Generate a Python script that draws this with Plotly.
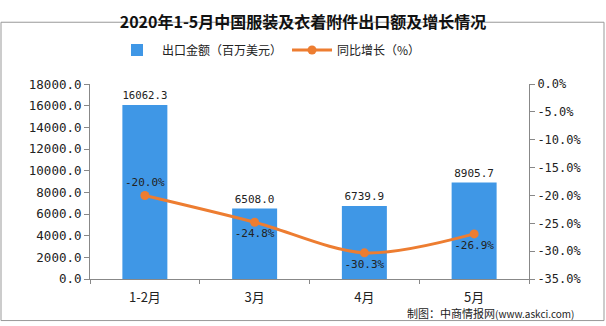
import plotly.graph_objects as go

categories = ["1-2月", "3月", "4月", "5月"]
export_values = [16062.3, 6508.0, 6739.9, 8905.7]
growth_values = [-20.0, -24.8, -30.3, -26.9]
left_ticks = [0, 2000, 4000, 6000, 8000, 10000, 12000, 14000, 16000, 18000]
right_ticks = [0, -5, -10, -15, -20, -25, -30, -35]

FONT = "Noto Sans CJK SC"
NUM = "DejaVu Sans Mono"
W, H = 606, 326
L, R, T, B = 90, 77, 68, 47
pw, ph = W - L - R, H - T - B

fig = go.Figure()
fig.add_trace(go.Bar(
    x=categories, y=export_values, name="出口金额（百万美元）",
    marker=dict(color="#3f97e6", line=dict(width=0)),
    width=0.41,
    texttemplate="%{y:.1f}", textposition="outside",
    textfont=dict(family=NUM, size=11, color="#222"),
    cliponaxis=False,
))
fig.add_trace(go.Scatter(
    x=categories, y=growth_values, name="同比增长（%）", yaxis="y2",
    mode="lines+markers+text",
    line=dict(color="#ed7d31", width=3, shape="spline", smoothing=0.9),
    marker=dict(color="#ed7d31", size=9),
    text=[f"{v:.1f}%" for v in growth_values],
    textposition=["top center", "bottom center", "bottom center", "bottom center"],
    textfont=dict(family=NUM, size=11, color="#222"),
    cliponaxis=False,
))

fig.update_layout(
    width=W, height=H,
    margin=dict(l=L, r=R, t=T, b=B),
    paper_bgcolor="white", plot_bgcolor="white",
    font=dict(family=FONT, size=11, color="#222"),
    title=dict(text="<b>2020年1-5月中国服装及衣着附件出口额及增长情况</b>",
               x=0.5, xref="container", xanchor="center", y=1 - 22 / H, yanchor="middle",
               font=dict(family=FONT, size=16, color="#111")),
    showlegend=True,
    legend=dict(orientation="h", x=112 / W, xanchor="left", xref="container",
                y=1 - 50 / H, yref="container", yanchor="middle",
                font=dict(family=FONT, size=12, color="#222"),
                itemwidth=40, bgcolor="rgba(0,0,0,0)"),
    xaxis=dict(type="category", showline=True, linecolor="#888", linewidth=1,
               ticks="outside", tickson="boundaries", ticklen=4, tickcolor="#888",
               showgrid=False, tickfont=dict(size=13), range=[-0.5, 3.5],
               ticklabelstandoff=6),
    yaxis=dict(range=[0, 18000], tickvals=left_ticks,
               ticktext=[f"{v:.1f}" for v in left_ticks],
               showline=True, linecolor="#888", linewidth=1,
               ticks="outside", ticklen=5, tickcolor="#888",
               showgrid=False, zeroline=False, tickfont=dict(family=NUM, size=12.5)),
    yaxis2=dict(range=[-35, 0], tickvals=right_ticks,
                ticktext=[f"{v:.1f}%" for v in right_ticks],
                overlaying="y", side="right",
                showline=True, linecolor="#888", linewidth=1,
                ticks="outside", ticklen=5, tickcolor="#888",
                showgrid=False, zeroline=False, tickfont=dict(family=NUM, size=12)),
    shapes=[dict(type="rect", xref="paper", yref="paper",
                 x0=(1 - L) / pw, x1=(W - 2 - L) / pw,
                 y0=(H - B - (H - 2)) / ph, y1=(H - B - 1) / ph,
                 line=dict(color="#999", width=1), layer="below")],
    annotations=[dict(text="制图：中商情报网<span style='font-size:10px'>(www.askci.com)</span>",
                      xref="paper", yref="paper",
                      x=(490 - L) / pw, y=(H - B - 316) / ph,
                      xanchor="center", yanchor="middle", showarrow=False,
                      font=dict(family=FONT, size=11, color="#222"))],
)

fig.write_html("out.html")
